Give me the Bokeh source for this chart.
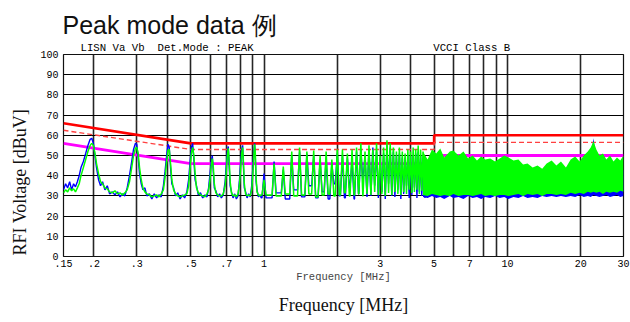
import numpy as np
from bokeh.plotting import figure
from bokeh.models import Range1d, FixedTicker, Title
from bokeh.embed import file_html
from bokeh.resources import INLINE

# ---------------- data ----------------
# limit lines [MHz], [dBuV]
qp_freq = [0.15, 0.5, 5.0, 5.0, 30.0]
qp_level = [66, 56, 56, 60, 60]
margin_freq = [0.15, 0.5, 5.0, 5.0, 30.0]
margin_level = [62.5, 53, 53, 56.5, 56.5]
av_freq = [0.15, 0.5, 5.0, 5.0, 30.0]
av_level = [56, 46, 46, 50, 50]

# measured trace 0.15 - 1 MHz
low_freq = [0.150, 0.153, 0.156, 0.159, 0.162, 0.165, 0.168, 0.171, 0.174, 0.177,
            0.181, 0.185, 0.189, 0.193, 0.196, 0.199, 0.202, 0.205, 0.209, 0.213,
            0.217, 0.222, 0.227, 0.232, 0.238, 0.244, 0.250, 0.256, 0.262, 0.268,
            0.274, 0.280, 0.286, 0.291, 0.296, 0.300, 0.304, 0.308, 0.313, 0.318,
            0.324, 0.330, 0.338, 0.346, 0.354, 0.362, 0.370, 0.378, 0.386, 0.392,
            0.398, 0.403, 0.408, 0.413, 0.418, 0.425, 0.433, 0.442, 0.452, 0.462,
            0.472, 0.482, 0.490, 0.497, 0.503, 0.509, 0.515, 0.521, 0.528, 0.537,
            0.548, 0.560, 0.572, 0.583, 0.592, 0.600, 0.607, 0.613, 0.619, 0.625,
            0.634, 0.645, 0.657, 0.668, 0.680, 0.692, 0.700, 0.707, 0.713, 0.719,
            0.726, 0.735, 0.746, 0.758, 0.770, 0.782, 0.793, 0.802, 0.810, 0.817,
            0.823, 0.830, 0.840, 0.852, 0.865, 0.878, 0.890, 0.900, 0.908, 0.915,
            0.921, 0.928, 0.936, 0.948, 0.960, 0.975]
low_green = [31.5, 33, 32, 34, 32.5, 33.5, 32, 34, 36, 40,
             44, 48, 52, 55, 56, 55, 51, 46, 41, 37,
             36, 34, 33.5, 32, 31.5, 32.5, 31, 31.5, 30.5, 31.5,
             33, 37, 44, 50, 53.5, 54, 51, 44, 38, 34,
             32, 31, 30.5, 29.5, 30, 30.5, 29.5, 31, 33, 39,
             47, 52.5, 53, 46, 38, 33, 31, 30, 29.5, 30,
             30.5, 31, 35, 44, 51, 54, 50, 41, 34, 31.5,
             30.5, 30, 29.5, 31, 33, 38, 45, 48.5, 44, 36,
             31.5, 30.5, 30, 30, 31, 35, 42, 50, 53.5, 48,
             37, 31.5, 30, 30.5, 29.5, 31, 36, 44, 51, 54,
             47, 36, 31, 30, 30.5, 30, 33, 41, 50, 55.5,
             51, 39, 32, 30.5, 30, 30.5]
low_blue = [33, 36, 34, 37, 33, 36, 34.5, 37, 40, 44,
            47, 51, 55, 58, 58.5, 56, 50, 44, 38, 35,
            37, 33, 35, 31, 32, 30.5, 32, 29.5, 31, 30,
            34, 40, 47, 53, 56, 55.5, 49, 41, 36, 33,
            34, 30, 31, 28.5, 31, 29, 30.5, 29.5, 35, 42,
            50, 55.5, 54, 44, 36, 34, 30, 31.5, 28.5, 30.5,
            29, 32, 38, 47, 54, 56, 48, 38, 35, 30.5,
            31.5, 29, 30.5, 29.5, 34, 41, 47, 50, 42, 34,
            32.5, 29.5, 31, 29, 30.5, 37, 45, 52, 54.5, 45,
            35, 32, 29, 31, 28.5, 30, 38, 47, 53, 55,
            45, 34, 32, 29, 31, 29.5, 35, 44, 52, 56,
            49, 37, 33, 29.5, 30.5, 29]

# harmonics 1 - 4.5 MHz (peak level and the floor after each one)
harm_freq = [1.0, 1.1, 1.2, 1.3, 1.4, 1.5, 1.6, 1.7, 1.8, 1.9,
             2.0, 2.1, 2.2, 2.3, 2.4, 2.5, 2.6, 2.7, 2.8, 2.9,
             3.0, 3.1, 3.2, 3.3, 3.4, 3.5, 3.6, 3.7, 3.8, 3.9,
             4.0, 4.1, 4.2, 4.3, 4.4, 4.5]
harm_green = [38, 46, 44.5, 52, 54, 52, 52.5, 50, 52, 48,
              53, 53, 51, 53, 54, 56, 52, 55, 53, 56,
              50, 54, 57.5, 56, 54, 52, 54, 52, 51, 53,
              52, 54, 53, 55, 53, 52]
harm_blue = [41, 47, 43, 50, 52, 51, 50, 48, 49, 46,
             51, 50, 49, 48, 52, 53, 50, 53, 54, 52,
             49, 51, 55, 54, 52, 50, 51, 49, 49, 50,
             50, 50, 51, 52, 50, 49]
harm_floor_green = [30.5, 30, 31, 30, 30.5, 31, 29.5, 30.5, 31, 30,
                    30.5, 31.5, 30, 30.5, 31, 30, 31, 30.5, 32, 30.5,
                    31, 30, 31.5, 30.5, 32, 31, 30.5, 32, 31, 33,
                    31.5, 32, 33, 31, 32.5, 31]
harm_floor_blue = [29, 31.5, 28.5, 33, 29.5, 35, 29, 32, 28.5, 36,
                   30, 29, 34, 28.5, 31, 37, 29.5, 30, 35, 29,
                   32, 28.5, 36, 30, 29.5, 33, 28.5, 31, 35, 29,
                   30.5, 34, 29, 32, 30, 29]

# dense band 4.5 - 30 MHz (lower / upper envelopes)
band_freq = [4.5, 4.7, 4.9, 5.1, 5.3, 5.5, 5.8, 6.0, 6.3, 6.6,
             6.9, 7.2, 7.5, 7.8, 8.1, 8.5, 8.9, 9.3, 9.7, 10.1,
             10.6, 11.1, 11.6, 12.1, 12.7, 13.3, 13.9, 14.5, 15.2, 15.9,
             16.6, 17.4, 18.2, 19.0, 19.8, 20.6, 21.4, 22.0, 22.6, 23.2,
             23.9, 24.7, 25.5, 26.4, 27.3, 28.2, 29.1, 30.0]
band_green_hi = [52, 48, 53, 51, 53.5, 49, 52, 52.5, 50, 52,
                 48.5, 50, 47.5, 49.5, 48, 48.5, 47, 48.5, 50, 49,
                 47.5, 48, 45.5, 46, 44, 45, 43.5, 46, 47.5, 45,
                 47, 44, 48, 49.5, 47, 50, 52, 54, 57, 53,
                 50, 51, 48, 50, 47, 49, 47.5, 50]
band_green_lo = [30.5, 30, 31, 30.5, 30, 30.5, 30, 31, 30, 30.5,
                 30.5, 30, 30.5, 31, 30, 30.5, 30, 30.5, 30.5, 30,
                 30.5, 31, 30, 31, 30.5, 31, 30, 31, 31, 30.5,
                 31, 30.5, 31.5, 31, 31.5, 31, 32, 31.5, 32, 31.5,
                 32, 31, 32, 31.5, 32, 31.5, 32.5, 32]
band_blue_hi = [44, 42, 45, 43, 45, 42, 44, 44, 42, 43,
                41, 42, 40, 41, 40, 41, 39, 40, 42, 41,
                40, 40, 38, 39, 37, 38, 36, 39, 40, 38,
                40, 37, 41, 42, 40, 43, 46, 50, 58.5, 47,
                45, 44, 42, 43, 41, 42, 41, 43]
band_blue_lo = [29.5, 29, 30, 29, 29.5, 28.5, 30, 29, 29.5, 28.5,
                30, 29, 29.5, 28.5, 29.5, 29, 30, 29, 29.5, 28.5,
                29.5, 29, 30, 29, 29.5, 29, 30, 29.5, 30, 29.5,
                30, 29.5, 30, 29.5, 30.5, 29.5, 30, 29.5, 30.5, 30,
                29.5, 30, 30.5, 29.5, 30, 30.5, 29.5, 30]

y_ticks = list(range(0, 101, 10))
x_label_ticks = [0.15, 0.2, 0.3, 0.5, 0.7, 1, 3, 5, 7, 10, 20, 30]
x_label_text = [".15", ".2", ".3", ".5", ".7", "1", "3", "5", "7", "10", "20", "30"]
x_grid_extra = [0.4, 0.6, 0.8, 0.9, 2, 4, 6, 8, 9]

title_text = "Peak mode data 例"
header_left = "LISN Va Vb  Det.Mode : PEAK"
header_right = "VCCI Class B"
x_title = "Frequency [MHz]"
y_title = "RFI Voltage [dBuV]"


def spike_trace(freqs, peaks, floors, start, a=0.019):
    xs, ys = [], []
    prev = start
    for i, (f, pk, fl) in enumerate(zip(freqs, peaks, floors)):
        left = f * (1 - a)
        if not xs or left > xs[-1]:
            xs.append(left)
            ys.append(prev)
        xs.append(f)
        ys.append(pk)
        right = f * (1 + a)
        if i + 1 < len(freqs) and right >= freqs[i + 1] * (1 - a):
            right = float(np.sqrt(f * freqs[i + 1]))
        xs.append(right)
        ys.append(fl)
        prev = fl
    return xs, ys


gx, gy = spike_trace(harm_freq, harm_green, harm_floor_green, low_green[-1])
bx, by = spike_trace(harm_freq, harm_blue, harm_floor_blue, low_blue[-1])
green_x = low_freq + gx
green_y = low_green + gy
blue_x = low_freq + bx
blue_y = low_blue + by

# ---------------- figure ----------------
p = figure(width=630, height=322, x_axis_type="log", title=None,
           x_range=Range1d(0.15, 30), y_range=Range1d(0, 100),
           output_backend="svg", toolbar_location=None,
           min_border_left=63, min_border_right=7,
           min_border_top=54, min_border_bottom=65)
p.background_fill_color = "white"
p.border_fill_color = "white"
p.outline_line_color = "#111111"
p.outline_line_width = 1.2

mono = "Liberation Mono"

p.yaxis.ticker = FixedTicker(ticks=y_ticks)
p.xaxis.ticker = FixedTicker(ticks=x_label_ticks, minor_ticks=x_grid_extra)
p.xaxis.major_label_overrides = {t: s for t, s in zip(x_label_ticks, x_label_text)}
for ax in (p.xaxis, p.yaxis):
    ax.axis_line_color = None
    ax.major_tick_line_color = None
    ax.minor_tick_line_color = None
    ax.major_tick_out = 0
    ax.minor_tick_out = 0
    ax.major_label_text_font = mono
    ax.major_label_text_font_size = "10px"
    ax.major_label_text_color = "black"
p.xaxis.major_label_standoff = 3
p.yaxis.major_label_standoff = 5
p.xaxis.axis_label = x_title
p.xaxis.axis_label_text_font = mono
p.xaxis.axis_label_text_font_size = "10.5px"
p.xaxis.axis_label_text_font_style = "normal"
p.xaxis.axis_label_standoff = 1

p.ygrid.grid_line_color = "black"
p.ygrid.grid_line_width = 1.2
p.xgrid.grid_line_color = "#262626"
p.xgrid.grid_line_width = 1.6
p.xgrid.minor_grid_line_color = "#262626"
p.xgrid.minor_grid_line_width = 1.6

# limit lines
p.line(qp_freq, qp_level, line_color="#ff0000", line_width=2.6)
p.line(margin_freq, margin_level, line_color="#ff4040", line_width=1.4, line_dash="5 3")
p.line(av_freq, av_level, line_color="#ff00ff", line_width=2.8)

# traces
p.varea(x=band_freq, y1=band_blue_lo, y2=band_blue_hi, fill_color="#0000ff")
p.line(blue_x, blue_y, line_color="#0000ff", line_width=1.4)
p.varea(x=band_freq, y1=band_green_lo, y2=band_green_hi, fill_color="#00ff00")
p.line(green_x, green_y, line_color="#00ff00", line_width=1.5)

# header line (closest to the frame), then main title above it
nb = "\u00a0"
header = (header_left + nb * 28 + header_right).replace(" ", nb)
p.add_layout(Title(text=header, align="left", offset=17, text_font=mono,
                   text_font_size="10.7px", text_font_style="normal",
                   text_color="black", standoff=1), "above")
p.add_layout(Title(text=title_text, align="left", offset=-1,
                   text_font="Liberation Sans", text_font_size="25px",
                   text_font_style="normal", text_color="#111111", standoff=2), "above")
p.add_layout(Title(text=y_title, align="left", offset=1,
                   text_font="Liberation Serif", text_font_size="18px",
                   text_font_style="normal", text_color="#111111", standoff=15), "left")
p.add_layout(Title(text=x_title, align="center", offset=-10,
                   text_font="Liberation Serif", text_font_size="18px",
                   text_font_style="normal", text_color="#111111", standoff=15), "below")

open("out.html", "w").write(file_html(p, INLINE))
